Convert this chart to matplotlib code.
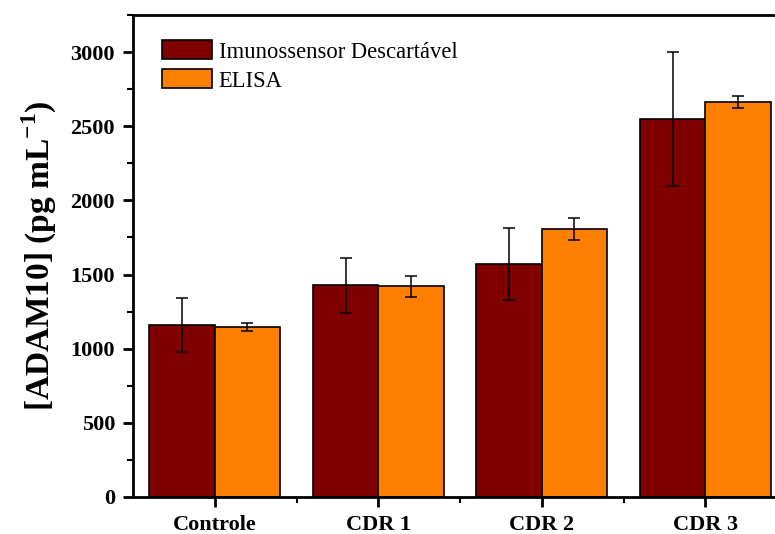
import numpy as np
import matplotlib
matplotlib.use("Agg")
import matplotlib.pyplot as plt
from matplotlib.ticker import MultipleLocator, FixedLocator

plt.rcParams['font.family'] = ['Liberation Serif', 'DejaVu Serif']
plt.rcParams['mathtext.fontset'] = 'custom'
plt.rcParams['mathtext.rm'] = 'Liberation Serif:bold'
plt.rcParams['mathtext.bf'] = 'Liberation Serif:bold'

# === Data ===
groups = ["Controle", "CDR 1", "CDR 2", "CDR 3"]
imuno_mean = [1160, 1428, 1570, 2550]
imuno_err = [180, 184, 242, 450]
elisa_mean = [1146, 1421, 1805, 2665]
elisa_err = [28, 72, 73, 40]

x = np.arange(len(groups))
w = 0.4

fig = plt.figure(figsize=(7.75, 5.34), dpi=100)
ax = fig.add_axes([133 / 775, 37 / 534, 654 / 775, 482 / 534])

err_style = dict(elinewidth=1.1, capsize=4, capthick=1.1, ecolor="black")
ax.bar(x - w / 2, imuno_mean, w, yerr=imuno_err, color="#800000", edgecolor="black",
       linewidth=1.2, error_kw=err_style, label="Imunossensor Descartável")
ax.bar(x + w / 2, elisa_mean, w, yerr=elisa_err, color="#FF8000", edgecolor="black",
       linewidth=1.2, error_kw=err_style, label="ELISA")

ax.set_xlim(-0.5, 3.5)
ax.set_ylim(0, 3250)
ax.set_xticks(x)
ax.set_xticklabels(groups, fontsize=16, fontweight="bold")
ax.xaxis.set_minor_locator(FixedLocator([0.5, 1.5, 2.5]))
ax.yaxis.set_major_locator(MultipleLocator(500))
ax.yaxis.set_minor_locator(MultipleLocator(250))
for lab in ax.get_yticklabels():
    lab.set_fontsize(16)
    lab.set_fontweight("bold")

for s in ax.spines.values():
    s.set_linewidth(2)
ax.tick_params(which="major", direction="out", length=7, width=2, pad=6)
ax.tick_params(which="minor", direction="out", length=4, width=1.5)

ax.set_ylabel(r"[ADAM10] (pg mL$^{\mathbf{-1}}$)", fontsize=24, fontweight="bold", labelpad=8)

ax.legend(loc="upper left", frameon=False, fontsize=16.3, handlelength=2.2, handleheight=0.9,
          bbox_to_anchor=(0.02, 0.98), labelspacing=0.3, handletextpad=0.3, borderaxespad=0.3)

fig.savefig("out.png", dpi=100)
